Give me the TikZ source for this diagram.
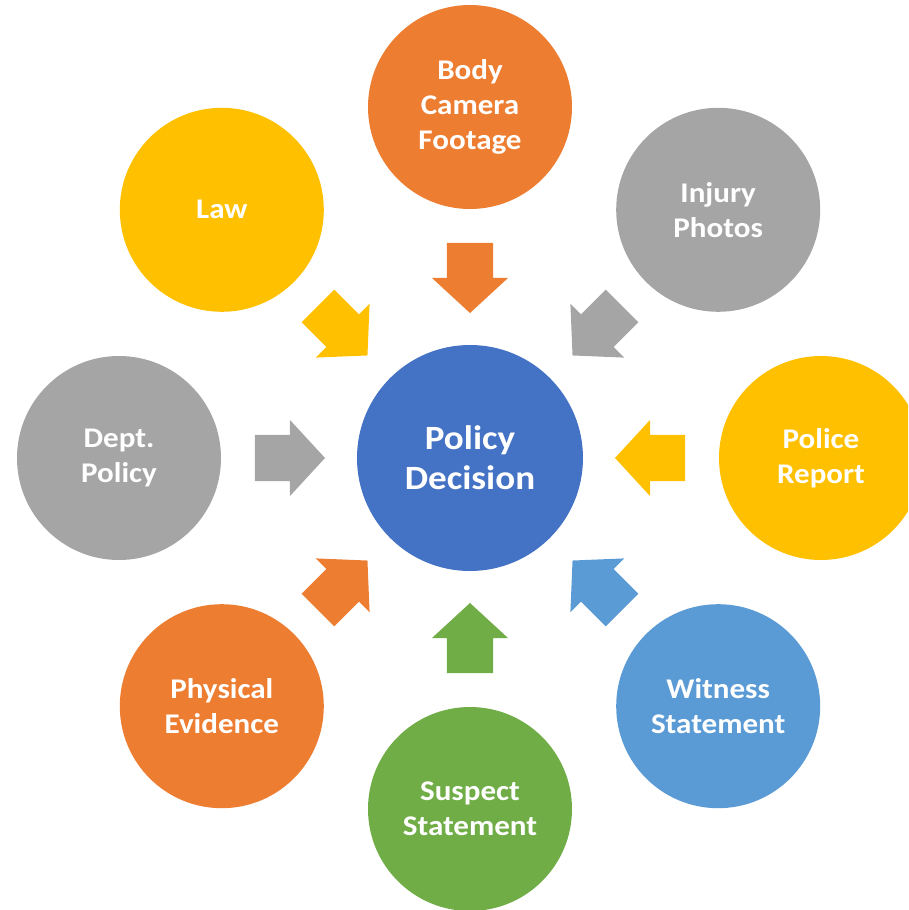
\documentclass[tikz,border=0pt]{standalone}
\usepackage{fontspec}
\setmainfont{Carlito}
\newfontfamily\labelfont[FakeStretch=1.09]{Carlito}
\usepackage{xcolor}
\usetikzlibrary{calc}

\definecolor{hubblue}{HTML}{4472C4}
\definecolor{srcorange}{HTML}{ED7D31}
\definecolor{srcgray}{HTML}{A5A5A5}
\definecolor{srcgold}{HTML}{FFC000}
\definecolor{srcblue}{HTML}{5B9BD5}
\definecolor{srcgreen}{HTML}{70AD47}

\begin{document}
\begin{tikzpicture}[x=1pt, y=1pt]
		\tikzstyle{hub} = [circle, fill=hubblue, text=white, minimum size=226pt, inner sep=0pt, align=center, font=\labelfont\fontsize{34}{40}\selectfont\bfseries]
		\tikzstyle{source} = [circle, text=white, minimum size=204pt, inner sep=0pt, align=center, font=\labelfont\fontsize{28.5}{35}\selectfont\bfseries]
		
		\clip (-470,-452) rectangle (438,458);
		
		\node[hub]	at (0, 0)	(decision)	{Policy\\Decision};
		
		\node[source, fill=srcorange]	at (90:351)		(body)		{Body\\Camera\\Footage};
		\node[source, fill=srcgray]		at (45:351)		(injury)	{Injury\\Photos};
		\node[source, fill=srcgold]		at (0:351)		(report)	{Police\\Report};
		\node[source, fill=srcblue]		at (-45:351)	(witness)	{Witness\\Statement};
		\node[source, fill=srcgreen]	at (-90:351)	(suspect)	{Suspect\\Statement};
		\node[source, fill=srcorange]	at (-135:351)	(physical)	{Physical\\Evidence};
		\node[source, fill=srcgray]		at (180:351)	(dept)		{Dept.\\Policy};
		\node[source, fill=srcgold]		at (135:351)	(law)		{Law};
		
		% block arrows from each source towards the decision
		\foreach \src/\ang/\col in {body/90/srcorange, injury/45/srcgray, report/0/srcgold, witness/-45/srcblue, suspect/-90/srcgreen, physical/-135/srcorange, dept/180/srcgray, law/135/srcgold}
			\fill[\col, shift={($(decision)!215pt!(\src)$)}, rotate=\ang+180]
				(0,-23) -- (35,-23) -- (35,-38) -- (70,0) -- (35,38) -- (35,23) -- (0,23) -- cycle;
	\end{tikzpicture}
\end{document}
